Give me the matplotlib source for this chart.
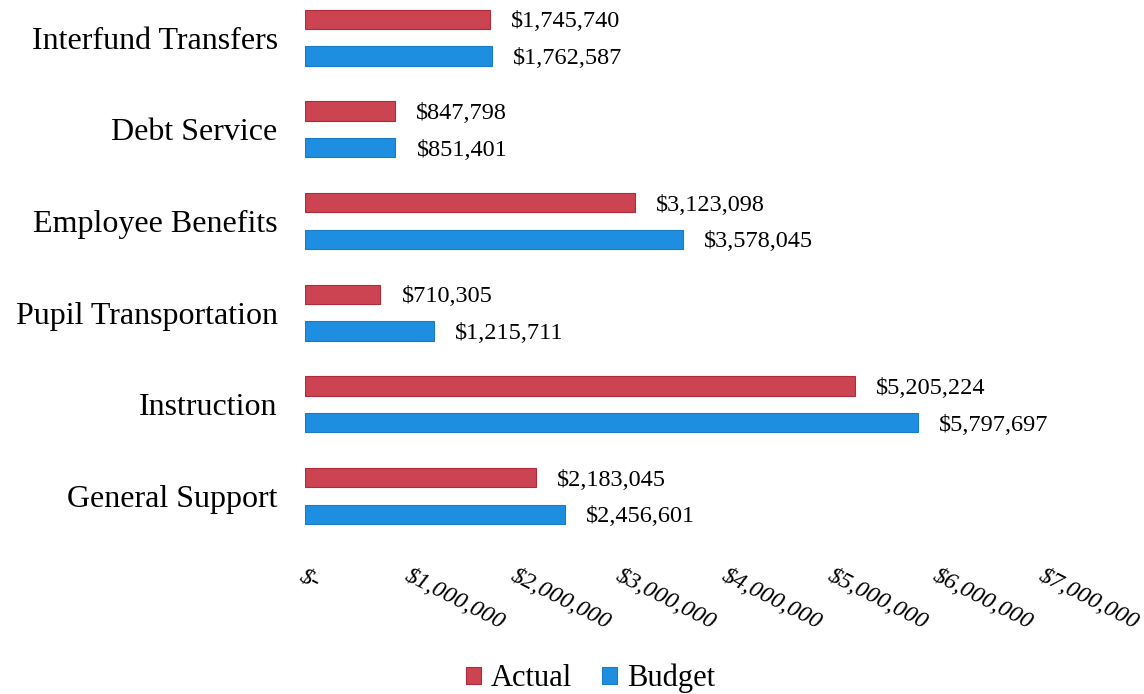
import numpy as np
import matplotlib.pyplot as plt
from matplotlib.ticker import FuncFormatter

plt.rcParams['font.family'] = ['Liberation Serif', 'DejaVu Serif']

# categories bottom -> top
categories = ['General Support', 'Instruction', 'Pupil Transportation',
              'Employee Benefits', 'Debt Service', 'Interfund Transfers']
actual = [2183045, 5205224, 710305, 3123098, 847798, 1745740]
budget = [2456601, 5797697, 1215711, 3578045, 851401, 1762587]

red = '#cc4452'
blue = '#1e8fe0'

fig = plt.figure(figsize=(11.44, 6.94), dpi=100)
ax = fig.add_axes([0.267, 0.222, 0.646, 0.778])

y = np.arange(len(categories))
h = 0.21
ax.barh(y + 0.2, actual, height=h, color=red, edgecolor='#b02a3c', linewidth=0.8, label='Actual')
ax.barh(y - 0.2, budget, height=h, color=blue, edgecolor='#1a7cc8', linewidth=0.8, label='Budget')

for yi, v in zip(y, actual):
    ax.text(v + 200000, yi + 0.2, '${:,}'.format(v), va='center_baseline', ha='left', fontsize=17.5)
for yi, v in zip(y, budget):
    ax.text(v + 200000, yi - 0.2, '${:,}'.format(v), va='center_baseline', ha='left', fontsize=17.5)

ax.set_xlim(0, 7000000)
ax.set_ylim(-0.48, 5.41)
ax.set_yticks(y)
ax.set_yticklabels(categories, fontsize=23)
ax.set_xticks(np.arange(0, 7000001, 1000000))
ax.xaxis.set_major_formatter(FuncFormatter(lambda v, p: '$-' if v == 0 else '${:,.0f}'.format(v)))
for lab in ax.get_xticklabels():
    lab.set_rotation(-27)
    lab.set_ha('left')
    lab.set_va('top')
    lab.set_rotation_mode('anchor')
    lab.set_fontstyle('italic')
    lab.set_fontsize(17.5)
ax.tick_params(axis='both', length=0)
ax.tick_params(axis='x', pad=18)
ax.tick_params(axis='y', pad=20)
for s in ax.spines.values():
    s.set_visible(False)

leg = fig.legend(loc='center', bbox_to_anchor=(0.516, 0.022), ncol=2, frameon=False,
                 fontsize=22, handlelength=0.5, handleheight=0.5, handletextpad=0.3,
                 columnspacing=1.0)

fig.savefig('out.png', dpi=100)
